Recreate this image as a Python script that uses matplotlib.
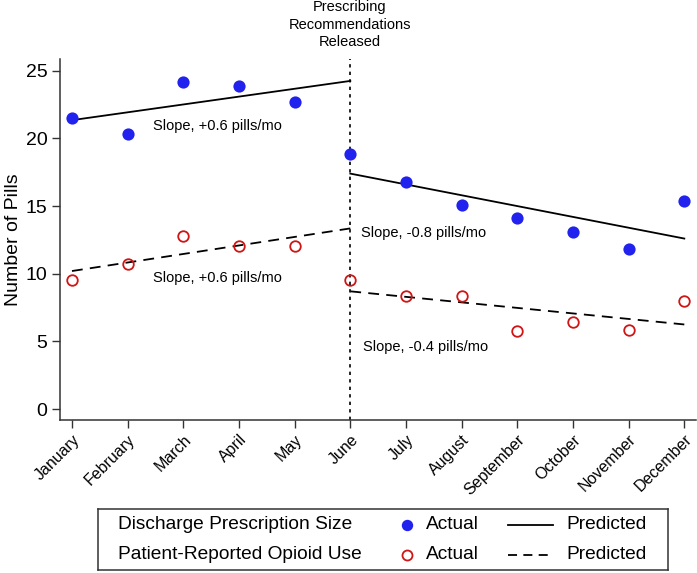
import matplotlib
matplotlib.use("Agg")
import matplotlib.pyplot as plt
import numpy as np

plt.rcParams['font.family'] = ['Liberation Sans', 'DejaVu Sans']

months = ["January", "February", "March", "April", "May", "June",
          "July", "August", "September", "October", "November", "December"]
rx_actual = [21.5, 20.3, 24.2, 23.9, 22.7, 18.85, 16.75, 15.1, 14.1, 13.05, 11.8, 15.35]
use_actual = [9.55, 10.75, 12.8, 12.05, 12.05, 9.55, 8.35, 8.35, 5.75, 6.4, 5.85, 7.95]
rx_pred_pre = [21.35, 24.25]     # January -> June
use_pred_pre = [10.2, 13.35]
rx_pred_post = [17.4, 12.6]      # June -> December
use_pred_post = [8.7, 6.25]
slope_labels = ["Slope, +0.6 pills/mo", "Slope, +0.6 pills/mo",
                "Slope, -0.8 pills/mo", "Slope, -0.4 pills/mo"]
yticks = [0, 5, 10, 15, 20, 25]

BLUE = '#2222ee'
RED = '#d01515'

W, H = 697, 573
fig = plt.figure(figsize=(W / 100, H / 100), dpi=100)
ax = fig.add_axes([60 / W, (H - 420) / H, 636 / W, 361 / H])

x = np.arange(len(months))
ax.plot(x, rx_actual, 'o', color=BLUE, markersize=8.8, markeredgewidth=0, zorder=3)
ax.plot(x, use_actual, 'o', markerfacecolor='none', markeredgecolor=RED,
        markersize=7.6, markeredgewidth=1.3, zorder=3)
ax.plot([x[0], x[5]], rx_pred_pre, '-', color='black', lw=1.3)
ax.plot([x[5], x[11]], rx_pred_post, '-', color='black', lw=1.3)
ax.plot([x[0], x[5]], use_pred_pre, '--', color='black', lw=1.3, dashes=(6, 4))
ax.plot([x[5], x[11]], use_pred_post, '--', color='black', lw=1.3, dashes=(6, 4))
ax.axvline(x[5], color='black', lw=1.2, linestyle=(0, (2, 2.5)), zorder=1)

fs_ann = 10.5
ax.text(1.45, 20.95, slope_labels[0], fontsize=fs_ann, va='center')
ax.text(1.45, 9.65, slope_labels[1], fontsize=fs_ann, va='center')
ax.text(5.2, 13.0, slope_labels[2], fontsize=fs_ann, va='center')
ax.text(5.22, 4.55, slope_labels[3], fontsize=fs_ann, va='center')

fig.text(350 / W, 1 - 0.5 / H, "Prescribing\nRecommendations\nReleased",
         ha='center', va='top', fontsize=10.5, linespacing=1.3)

ax.set_xlim(-0.215, 11.21)
ax.set_ylim(-0.81, 25.87)
ax.set_xticks(x)
ax.set_xticklabels(months, rotation=45, ha='right', rotation_mode='anchor', fontsize=11.5)
ax.set_yticks(yticks)
ax.set_yticklabels([str(v) for v in yticks], fontsize=14)
ax.set_ylabel("Number of Pills", fontsize=14, labelpad=3)
ax.tick_params(axis='both', length=5.5, width=1, color='#333333')
ax.tick_params(axis='x', pad=3)
for s in ['top', 'right']:
    ax.spines[s].set_visible(False)
for s in ['left', 'bottom']:
    ax.spines[s].set_linewidth(1.1)
    ax.spines[s].set_color('#333333')

# Legend box
lx0, lx1, ly0, ly1 = 98, 668, 509, 570
lax = fig.add_axes([lx0 / W, (H - ly1) / H, (lx1 - lx0) / W, (ly1 - ly0) / H])
lax.set_xlim(lx0, lx1)
lax.set_ylim(ly1, ly0)
lax.set_xticks([])
lax.set_yticks([])
for s in lax.spines.values():
    s.set_linewidth(1.1)
    s.set_color('#333333')
fs_leg = 13.8
rows = [525, 555]
lax.text(118, rows[0], "Discharge Prescription Size", fontsize=fs_leg, va='center')
lax.text(118, rows[1], "Patient-Reported Opioid Use", fontsize=fs_leg, va='center')
lax.plot([407], [rows[0]], 'o', color=BLUE, markersize=8.2, markeredgewidth=0)
lax.plot([407], [rows[1]], 'o', markerfacecolor='none', markeredgecolor=RED,
         markersize=7.2, markeredgewidth=1.3)
lax.text(426, rows[0], "Actual", fontsize=fs_leg, va='center')
lax.text(426, rows[1], "Actual", fontsize=fs_leg, va='center')
lax.plot([508, 553], [rows[0], rows[0]], '-', color='black', lw=1.3)
lax.plot([508, 553], [rows[1], rows[1]], '--', color='black', lw=1.3, dashes=(5, 3.5))
lax.text(566, rows[0], "Predicted", fontsize=fs_leg, va='center')
lax.text(566, rows[1], "Predicted", fontsize=fs_leg, va='center')

fig.savefig("out.png", dpi=100)
